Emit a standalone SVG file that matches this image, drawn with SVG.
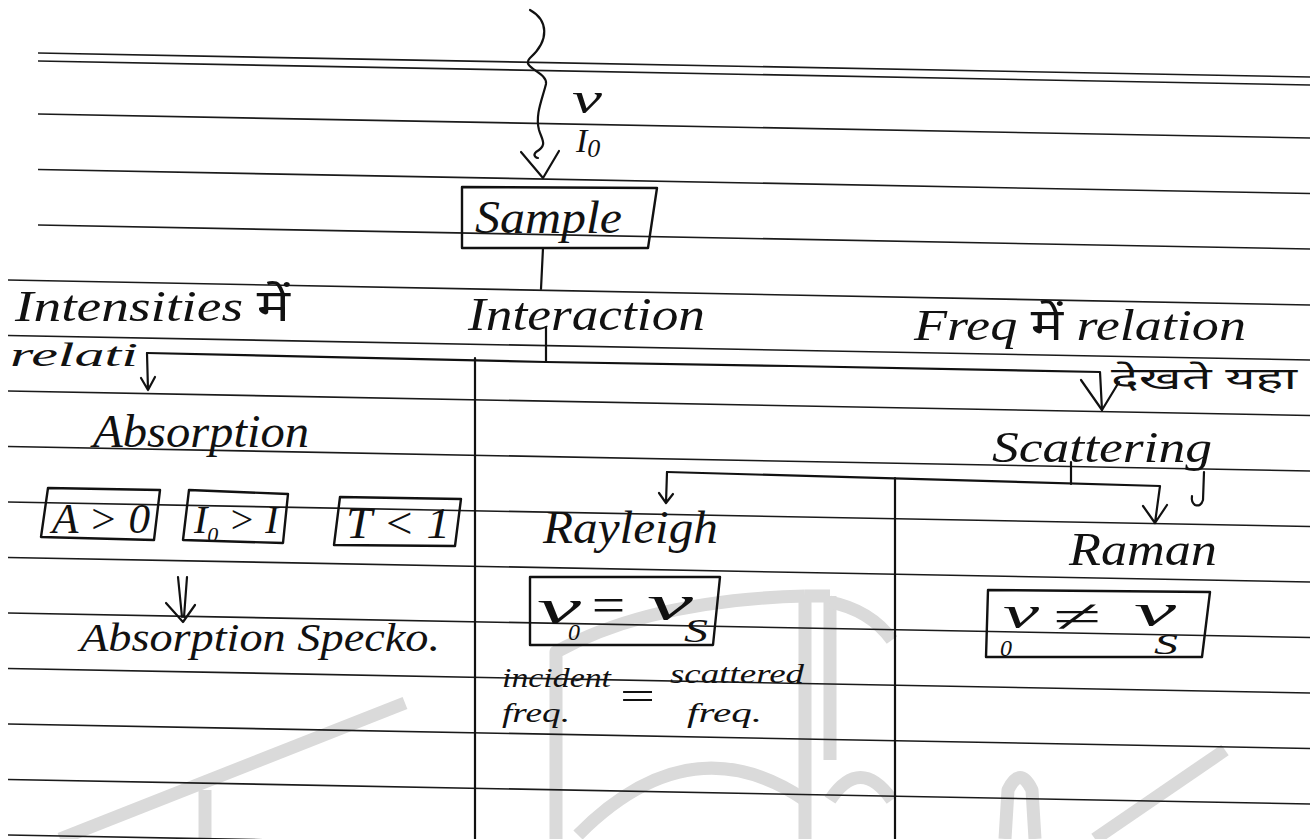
<svg xmlns="http://www.w3.org/2000/svg" width="1313" height="839" viewBox="0 0 1313 839">
  <defs>
    <style>
      .rule { stroke: #1a1a1a; stroke-width: 1.6; fill: none; }
      .ink { fill: none; stroke: #111; stroke-width: 2.2; stroke-linecap: round; stroke-linejoin: round; }
      .box { fill: none; stroke: #111; stroke-width: 2.4; stroke-linejoin: round; }
      .hw { font-family: "Liberation Serif", "DejaVu Serif", "Noto Sans", serif; font-style: italic; fill: #111; }
      .dev { font-family: "Noto Sans", "Liberation Serif", sans-serif; fill: #111; }
      .mark { fill: none; stroke: #dadada; stroke-width: 13; stroke-linecap: butt; stroke-linejoin: round; }
    </style>
  </defs>

  <rect width="1313" height="839" fill="#fff"/>

  <!-- faint printed logo on the page -->
  <g id="page-logo">
    <path class="mark" d="M60,839 L405,703"/>
    <path class="mark" d="M205,790 L205,839"/>
    <path class="mark" d="M556,839 L556,652 Q650,600 805,596"/>
    <path class="mark" d="M805,596 L805,839 M830,596 L830,760 M805,596 L830,596"/>
    <path class="mark" d="M830,602 Q870,610 892,640"/>
    <path class="mark" d="M578,835 Q690,722 805,800"/>
    <path class="mark" d="M830,800 Q860,755 892,800"/>
    <path class="mark" d="M1005,839 L1008,790 Q1020,765 1032,790 L1035,839"/>
    <path class="mark" d="M1095,839 L1225,750"/>
  </g>

  <!-- ruled notebook lines -->
  <g id="ruling">
    <line class="rule" x1="38" y1="53" x2="1310" y2="77"/>
    <line class="rule" x1="38" y1="61" x2="1310" y2="85"/>
    <line class="rule" x1="38" y1="114" x2="1310" y2="138"/>
    <line class="rule" x1="38" y1="169.5" x2="1310" y2="193.5"/>
    <line class="rule" x1="38" y1="225" x2="1310" y2="249"/>
    <line class="rule" x1="8" y1="280" x2="1310" y2="305"/>
    <line class="rule" x1="8" y1="335.5" x2="1310" y2="360"/>
    <line class="rule" x1="8" y1="391" x2="1310" y2="415.5"/>
    <line class="rule" x1="8" y1="446.5" x2="1310" y2="471"/>
    <line class="rule" x1="8" y1="502" x2="1310" y2="526.5"/>
    <line class="rule" x1="8" y1="557.5" x2="1310" y2="582"/>
    <line class="rule" x1="8" y1="613" x2="1310" y2="637.5"/>
    <line class="rule" x1="8" y1="668.5" x2="1310" y2="693"/>
    <line class="rule" x1="8" y1="724" x2="1310" y2="748.5"/>
    <line class="rule" x1="8" y1="779.5" x2="1310" y2="804"/>
    <line class="rule" x1="8" y1="835" x2="1310" y2="859.5"/>
  </g>

  <!-- connectors -->
  <g id="connectors">
    <!-- incoming radiation (wavy) -->
    <path class="ink" d="M530,10 C548,20 550,40 530,58 C520,68 548,72 546,84 C542,100 535,115 539,130 C542,140 548,145 536,152 C532,156 537,158 538,158"/>
    <path class="ink" d="M521,152 L543,178 L559,151"/>
    <!-- sample to interaction -->
    <path class="ink" d="M543,248 L541,289"/>
    <path class="ink" d="M546,327 L546,362"/>
    <!-- branch line -->
    <path class="ink" d="M147,353 L546,362 L790,366 L1100,372 L1102,410"/>
    <path class="ink" d="M147,353 L148,390 M141,378 L148,390 L155,377"/>
    <path class="ink" d="M1081,380 L1102,410 L1119,382"/>
    <!-- column dividers -->
    <path class="ink" d="M475,358 L475,839"/>
    <path class="ink" d="M895,478 L895,839"/>
    <!-- scattering branches -->
    <path class="ink" d="M1071,462 L1071,484"/>
    <path class="ink" d="M667,472 L1160,486 L1155,523 M1143,506 L1155,523 L1167,505"/>
    <path class="ink" d="M667,472 L666,503 M659,493 L666,503 L673,494"/>
    <!-- implies -->
    <path class="ink" d="M178,577 L182,617 M187,577 L184,617 M166,603 L183,622 L195,605"/>
  </g>

  <g id="radiation-label">
    <text class="hw" x="572" y="113" font-size="44" textLength="30" lengthAdjust="spacingAndGlyphs">ν</text>
    <text class="hw" x="576" y="152" font-size="34">I<tspan font-size="26" dy="5">0</tspan></text>
  </g>

  <g id="sample">
    <path class="box" d="M462,187 L657,188 L648,248 L462,248 Z"/>
    <text class="hw" x="475" y="233" font-size="46" textLength="147" lengthAdjust="spacingAndGlyphs">Sample</text>
  </g>

  <g id="interaction">
    <text class="hw" x="468" y="330" font-size="46" textLength="237" lengthAdjust="spacingAndGlyphs">Interaction</text>
  </g>

  <g id="intensities-note">
    <text class="hw" x="15" y="321" font-size="44" textLength="275" lengthAdjust="spacingAndGlyphs">Intensities <tspan class="dev" font-style="normal">में</tspan></text>
    <text class="hw" x="10" y="366" font-size="34" textLength="128" lengthAdjust="spacingAndGlyphs">relati</text>
  </g>

  <g id="frequency-note">
    <text class="hw" x="914" y="340" font-size="44" textLength="332" lengthAdjust="spacingAndGlyphs">Freq <tspan class="dev" font-style="normal">में</tspan> relation</text>
    <text class="dev" x="1111" y="389" font-size="30" textLength="186" lengthAdjust="spacingAndGlyphs">देखते यहा</text>
  </g>

  <g id="absorption">
    <text class="hw" x="93" y="447" font-size="46" textLength="216" lengthAdjust="spacingAndGlyphs">Absorption</text>
  </g>

  <g id="absorbance-box">
    <path class="box" d="M48,488 L160,490 L154,540 L41,537 Z"/>
    <text class="hw" x="52" y="533" font-size="42" textLength="98" lengthAdjust="spacingAndGlyphs">A &gt; 0</text>
  </g>

  <g id="intensity-box">
    <path class="box" d="M189,490 L288,494 L283,543 L183,540 Z"/>
    <text class="hw" x="194" y="533" font-size="40">I<tspan font-size="22" dy="9">0</tspan><tspan dy="-9"> &gt; I</tspan></text>
  </g>

  <g id="transmittance-box">
    <path class="box" d="M340,497 L461,499 L455,546 L334,545 Z"/>
    <text class="hw" x="346" y="538" font-size="44" textLength="104" lengthAdjust="spacingAndGlyphs">T &lt; 1</text>
  </g>

  <g id="absorption-spectro">
    <text class="hw" x="80" y="651" font-size="40" textLength="360" lengthAdjust="spacingAndGlyphs">Absorption Specko.</text>
  </g>

  <g id="scattering">
    <text class="hw" x="992" y="462" font-size="44" textLength="220" lengthAdjust="spacingAndGlyphs">Scattering</text>
    <path class="ink" d="M1204,472 L1203,500 Q1201,507 1195,505 Q1191,502 1192,496"/>
  </g>

  <g id="rayleigh">
    <text class="hw" x="543" y="543" font-size="46" textLength="175" lengthAdjust="spacingAndGlyphs">Rayleigh</text>
  </g>

  <g id="rayleigh-condition">
    <path class="box" d="M530,577 L720,577 L713,645 L530,645 Z"/>
    <text class="hw" x="537" y="624" font-size="50" textLength="44" lengthAdjust="spacingAndGlyphs">ν</text>
    <text class="hw" x="568" y="640" font-size="24">0</text>
    <text class="hw" x="588" y="622" font-size="50" textLength="40" lengthAdjust="spacingAndGlyphs">=</text>
    <text class="hw" x="647" y="620" font-size="50" textLength="46" lengthAdjust="spacingAndGlyphs">ν</text>
    <text class="hw" x="684" y="642" font-size="34" textLength="24" lengthAdjust="spacingAndGlyphs">S</text>
  </g>

  <g id="rayleigh-note">
    <text class="hw" x="502" y="687" font-size="28" textLength="109" lengthAdjust="spacingAndGlyphs">incident</text>
    <text class="hw" x="670" y="683" font-size="28" textLength="134" lengthAdjust="spacingAndGlyphs">scattered</text>
    <text class="hw" x="616" y="709" font-size="38" textLength="42" lengthAdjust="spacingAndGlyphs">=</text>
    <text class="hw" x="502" y="722" font-size="28" textLength="68" lengthAdjust="spacingAndGlyphs">freq.</text>
    <text class="hw" x="687" y="722" font-size="28" textLength="75" lengthAdjust="spacingAndGlyphs">freq.</text>
  </g>

  <g id="raman">
    <text class="hw" x="1069" y="565" font-size="46" textLength="148" lengthAdjust="spacingAndGlyphs">Raman</text>
  </g>

  <g id="raman-condition">
    <path class="box" d="M988,590 L1210,592 L1202,657 L986,657 Z"/>
    <text class="hw" x="1003" y="628" font-size="46" textLength="36" lengthAdjust="spacingAndGlyphs">ν</text>
    <text class="hw" x="1000" y="656" font-size="24">0</text>
    <text class="hw" x="1052" y="632" font-size="46" textLength="48" lengthAdjust="spacingAndGlyphs">≠</text>
    <text class="hw" x="1134" y="626" font-size="46" textLength="42" lengthAdjust="spacingAndGlyphs">ν</text>
    <text class="hw" x="1154" y="654" font-size="30" textLength="24" lengthAdjust="spacingAndGlyphs">S</text>
  </g>
</svg>
